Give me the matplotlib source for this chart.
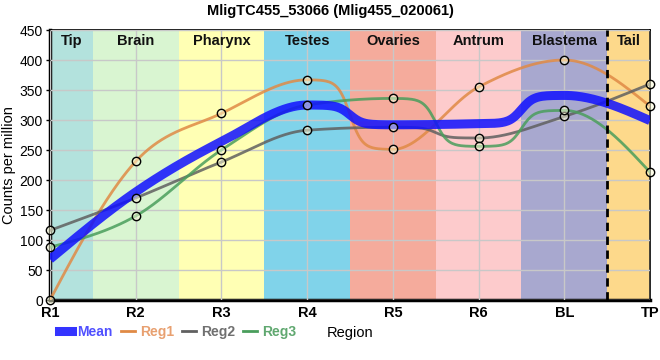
import matplotlib
matplotlib.use("Agg")
import matplotlib.pyplot as plt
import numpy as np
from matplotlib.lines import Line2D

plt.rcParams['font.family'] = ['Liberation Sans', 'DejaVu Sans']

# data
positions = ["R1", "R2", "R3", "R4", "R5", "R6", "BL", "TP"]
mean_vals = [68, 180, 264, 325, 292, 294, 341, 299]
reg1 = [0, 231, 311, 367, 251, 355, 400, 323]
reg2 = [116, 170, 230, 283, 288, 270, 306, 360]
reg3 = [88, 140, 250, 325, 336, 256, 316, 213]

regions = ["Tip", "Brain", "Pharynx", "Testes", "Ovaries", "Antrum", "Blastema", "Tail"]
region_colors = ["#b3e2dd", "#d9f5d1", "#ffffb4", "#80d3ea", "#f5ab9c",
                 "#fdcbcc", "#a8a8cf", "#fdd98b"]


def smooth_curve(x, y, n=60, k=7.0):
    # monotone cubic; segments between two (nearly) flat points get a sharper step
    x = np.asarray(x, float)
    y = np.asarray(y, float)
    h = np.diff(x)
    s = np.diff(y) / h
    t = np.zeros(len(x))
    for i in range(1, len(x) - 1):
        p = (s[i - 1] * h[i] + s[i] * h[i - 1]) / (h[i - 1] + h[i])
        t[i] = (np.sign(s[i - 1]) + np.sign(s[i])) * min(abs(s[i - 1]), abs(s[i]), 0.5 * abs(p))
    t[0] = (3 * s[0] - t[1]) / 2
    t[-1] = (3 * s[-1] - t[-2]) / 2
    xs, ys = [], []
    u = np.linspace(0, 1, n)
    sharp = 0.5 + 0.5 * np.tanh(k * (u - 0.5)) / np.tanh(k / 2)
    for i in range(len(x) - 1):
        lim = 0.25 * abs(s[i])
        if abs(t[i]) <= lim and abs(t[i + 1]) <= lim:
            yy = y[i] + (y[i + 1] - y[i]) * sharp
        else:
            h00 = 2 * u**3 - 3 * u**2 + 1
            h10 = u**3 - 2 * u**2 + u
            h01 = -2 * u**3 + 3 * u**2
            h11 = u**3 - u**2
            yy = h00 * y[i] + h10 * h[i] * t[i] + h01 * y[i + 1] + h11 * h[i] * t[i + 1]
        xs.append(x[i] + u * h[i])
        ys.append(yy)
    return np.concatenate(xs), np.concatenate(ys)


fig = plt.figure(figsize=(6.6, 3.6), dpi=100)
ax = fig.add_axes([50 / 660, 60 / 360, 600 / 660, 270 / 360])

xi = np.arange(len(positions))
n = len(positions)
for i, (name, col) in enumerate(zip(regions, region_colors)):
    lo = max(i - 0.5, 0)
    hi = min(i + 0.5, n - 1)
    ax.axvspan(lo, hi, color=col, zorder=0, lw=0)
    ax.text((lo + hi) / 2, 431, name, ha='center', va='center',
            fontsize=10.5, fontweight='bold', color='#111111', zorder=5)

ax.axvline(n - 1.5, color='black', ls=(0, (3, 2)), lw=2, zorder=4)

ax.grid(True, color='#c8c8c8', lw=1, zorder=1)
ax.set_axisbelow(False)
for gl in ax.get_xgridlines() + ax.get_ygridlines():
    gl.set_zorder(1)

series = [("Reg1", reg1, "#e08a45"), ("Reg2", reg2, "#606060"), ("Reg3", reg3, "#4a9e5c")]
for name, vals, col in series:
    cx, cy = smooth_curve(xi, vals)
    ax.plot(cx, cy, color=col, lw=2, alpha=0.85, zorder=3)

mx, my = smooth_curve(xi, mean_vals)
ax.plot(mx, my, color='#1010ff', lw=6.5, alpha=0.85, zorder=3, solid_capstyle='butt')

for name, vals, col in series:
    ax.plot(xi, vals, ls='none', marker='o', ms=6, mfc=(1, 1, 0.85, 0.5),
            mec='black', mew=1, zorder=6, clip_on=False)

ax.set_xlim(0, n - 1)
ax.set_ylim(0, 450)
ax.set_xticks(xi)
ax.set_xticklabels(positions, fontsize=10.5, fontweight='bold')
ax.set_yticks(np.arange(0, 451, 50))
ax.tick_params(axis='y', labelsize=10, length=3, width=1, pad=2)
ax.tick_params(axis='x', length=0, pad=4)
ax.set_ylabel("Counts per million", fontsize=10.5, labelpad=3)
ax.set_xlabel("Region", fontsize=10.5, labelpad=5)

for side in ['left', 'bottom']:
    ax.spines[side].set_linewidth(2.5)
for side in ['top', 'right']:
    ax.spines[side].set_linewidth(1.2)

fig.suptitle("MligTC455_53066 (Mlig455_020061)", fontsize=10.5, fontweight='bold', y=0.99)

handles = [Line2D([], [], color='#1010ff', lw=6.5, alpha=0.85),
           Line2D([], [], color='#e08a45', lw=2),
           Line2D([], [], color='#606060', lw=2),
           Line2D([], [], color='#4a9e5c', lw=2)]
leg = ax.legend(handles, ["Mean", "Reg1", "Reg2", "Reg3"], ncol=4, frameon=False,
                loc='upper left', bbox_to_anchor=(0.005, -0.072), handlelength=1.0,
                handletextpad=0.35, columnspacing=0.6, fontsize=10, borderaxespad=0,
                labelcolor=['#5050ff', '#e8a070', '#707070', '#60a870'])
for t in leg.get_texts():
    t.set_fontweight('bold')

fig.savefig("out.png", dpi=100)
